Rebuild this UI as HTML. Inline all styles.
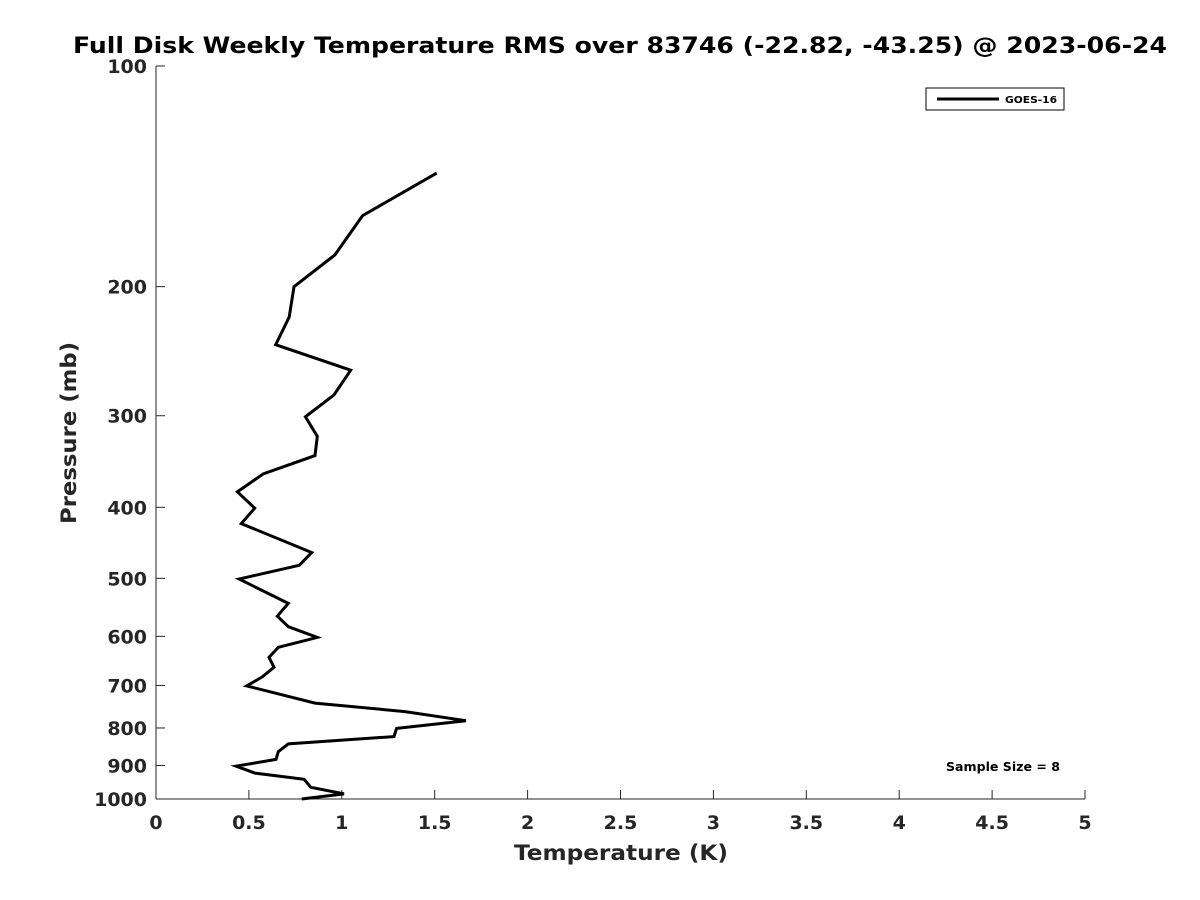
<!DOCTYPE html>
<html><head><meta charset="utf-8"><style>
body{margin:0;background:#fff;}
svg{display:block;font-family:"DejaVu Sans","Liberation Sans",sans-serif;font-weight:bold;}
</style></head><body>
<svg id="chart" width="1200" height="900">
<rect width="1200" height="900" fill="#fff"/>
<text x="620" y="53" text-anchor="middle" font-size="22" fill="#000" textLength="1094" lengthAdjust="spacingAndGlyphs">Full Disk Weekly Temperature RMS over 83746 (-22.82, -43.25) @ 2023-06-24</text>
<g id="axes"></g>
<g id="series"></g>
<g>
<rect x="926" y="88" width="138" height="22" fill="#fff" stroke="#000" stroke-width="1"/>
<line x1="937" y1="99" x2="999" y2="99" stroke="#000" stroke-width="3"/>
<text x="1005" y="103" font-size="10" fill="#000" textLength="52" lengthAdjust="spacingAndGlyphs">GOES-16</text>
</g>
<text x="1003" y="771" text-anchor="middle" font-size="12" fill="#000" textLength="114" lengthAdjust="spacingAndGlyphs">Sample Size = 8</text>
<text x="621" y="860" text-anchor="middle" font-size="21" fill="#262626" textLength="214" lengthAdjust="spacingAndGlyphs">Temperature (K)</text>
<text transform="translate(76,433) rotate(-90)" text-anchor="middle" font-size="21" fill="#262626" textLength="182" lengthAdjust="spacingAndGlyphs">Pressure (mb)</text>
</svg>
<script>
const xTicks=[0,0.5,1,1.5,2,2.5,3,3.5,4,4.5,5];
const xTickLabels=["0","0.5","1","1.5","2","2.5","3","3.5","4","4.5","5"];
const yTicks=[100,200,300,400,500,600,700,800,900,1000];
const yTickLabels=["100","200","300","400","500","600","700","800","900","1000"];
const pressure=[140,160,181,200,220,240,260,281,301,320,340,360,381,401,421,461,480,501,541,563,582,602,621,641,661,681,701,740,760,782,801,822,841,862,883,902,922,940,964,984,1000];
const temperature=[1.511,1.112,0.963,0.743,0.717,0.644,1.048,0.958,0.804,0.868,0.856,0.578,0.438,0.531,0.459,0.838,0.771,0.447,0.712,0.653,0.712,0.868,0.658,0.608,0.635,0.574,0.488,0.856,1.34,1.668,1.295,1.281,0.712,0.658,0.646,0.431,0.533,0.797,0.833,1.012,0.784];
const X0=156,X1=1085,Y0=66,Y1=799;
const xS=v=>X0+(v-0)/(5-0)*(X1-X0);
const yS=p=>Y0+(Math.log10(p)-2)/(3-2)*(Y1-Y0);
const NS="http://www.w3.org/2000/svg";
const axes=document.getElementById('axes');
function mk(t,a,p){const e=document.createElementNS(NS,t);for(const k in a)e.setAttribute(k,a[k]);p.appendChild(e);return e;}
const xa=mk('line',{x1:X0,y1:Y1,x2:X1,y2:Y1,stroke:'#262626','stroke-width':1},axes);


const ya=mk('line',{x1:X0,y1:Y0,x2:X0,y2:Y1,stroke:'#262626','stroke-width':1},axes);


xTicks.forEach((v,i)=>{const x=xS(v);
const t=mk('line',{x1:x,y1:Y1,x2:x,y2:Y1-9,stroke:'#262626'},axes);


const l=mk('text',{x:x,y:Y1+30,'text-anchor':'middle','font-size':19,fill:'#262626'},axes);l.textContent=xTickLabels[i];

});
yTicks.forEach((v,i)=>{const y=yS(v);
const t=mk('line',{x1:X0,y1:y,x2:X0+9,y2:y,stroke:'#262626'},axes);


const l=mk('text',{x:X0-9,y:y+7,'text-anchor':'end','font-size':19,fill:'#262626'},axes);l.textContent=yTickLabels[i];

});
const pts=pressure.map((p,i)=>xS(temperature[i]).toFixed(1)+','+yS(p).toFixed(1)).join(' ');
const pl=mk('polyline',{points:pts,fill:'none',stroke:'#000','stroke-width':3,'stroke-linejoin':'miter'},document.getElementById('series'));


</script>
</body></html>
